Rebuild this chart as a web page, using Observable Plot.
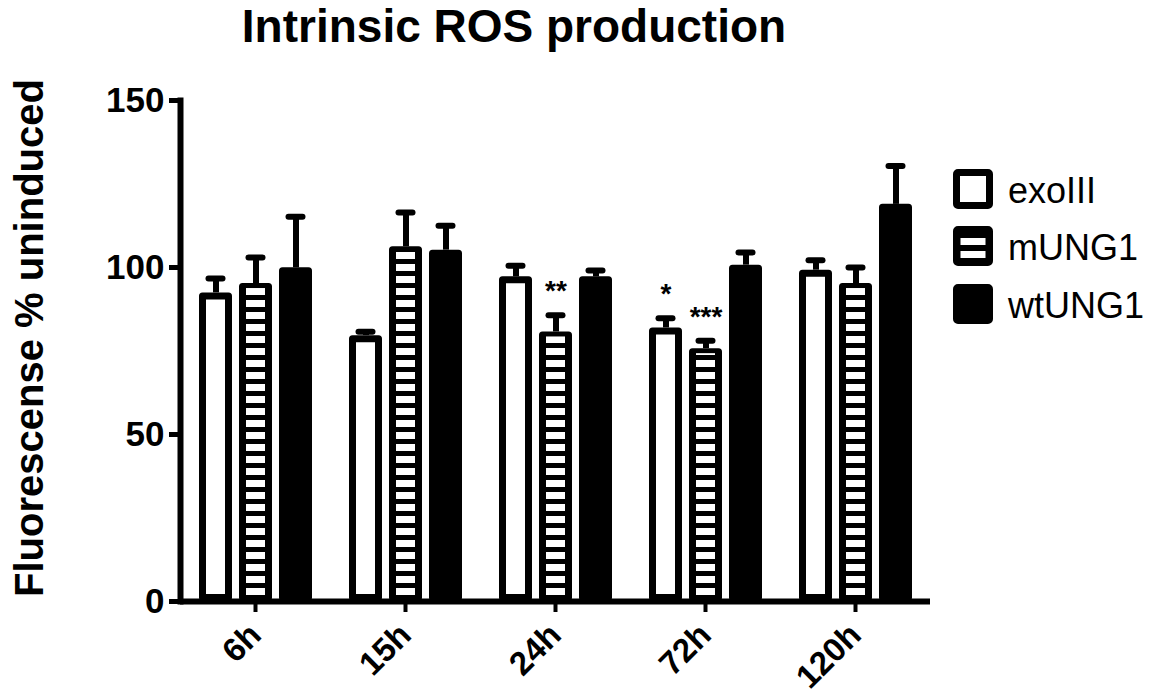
<!DOCTYPE html>
<html>
<head>
<meta charset="utf-8">
<script src="https://cdn.jsdelivr.net/npm/d3@7"></script>
<script src="https://cdn.jsdelivr.net/npm/@observablehq/plot@0.6"></script>
<style>
  html, body { margin: 0; padding: 0; background: white; }
  #wrap { position: relative; width: 1169px; height: 700px; overflow: hidden; font-family: "Liberation Sans", Arial, sans-serif; color: black; background: white; }
  #title { position: absolute; left: 0; top: 3px; width: 1028px; text-align: center; font-size: 46px; line-height: 46px; font-weight: bold; white-space: nowrap; z-index: 2; }
  #ylabel { position: absolute; left: -271px; top: 318px; width: 600px; height: 40px; line-height: 40px; text-align: center; font-size: 40px; font-weight: bold; transform: rotate(-90deg); transform-origin: 50% 50%; white-space: nowrap; z-index: 2; }
  #chart { position: absolute; left: 0; top: 60px; z-index: 1; }
  #legend { position: absolute; left: 0; top: 0; z-index: 2; }
  .sw { position: absolute; left: 953px; width: 40px; height: 40px; }
  .lt { position: absolute; left: 1008px; font-size: 36px; line-height: 36px; white-space: nowrap; }
</style>
</head>
<body>
<div id="wrap">
  <div id="chart"></div>
  <div id="title">Intrinsic ROS production</div>
  <div id="ylabel">Fluorescense % uninduced</div>
  <div id="legend"></div>
</div>
<script>
// ---- data ----
const times = ["6h", "15h", "24h", "72h", "120h"];
const series = ["exoIII", "mUNG1", "wtUNG1"];
const exoIII     = [92.4, 79.6, 97.2, 81.9, 99.2];
const exoIIIErr  = [4.3, 1.2, 3.3, 2.9, 3.0];
const mUNG1      = [95.2, 106.2, 80.7, 75.7, 95.2];
const mUNG1Err   = [7.8, 10.3, 5.0, 2.4, 4.8];
const wtUNG1     = [99.9, 105.2, 97.2, 100.7, 118.9];
const wtUNG1Err  = [15.3, 7.3, 1.9, 3.8, 11.5];
const sigTimes   = ["24h", "72h", "72h"];
const sigSeries  = ["mUNG1", "exoIII", "mUNG1"];
const sigLabels  = ["**", "*", "***"];
const yTicks = [0, 50, 100, 150];

// ---- table built from arrays ----
const valuesBySeries = {exoIII, mUNG1, wtUNG1};
const errBySeries = {exoIII: exoIIIErr, mUNG1: mUNG1Err, wtUNG1: wtUNG1Err};
const rows = [];
times.forEach((t, i) => series.forEach(s => {
  rows.push({time: t, series: s, value: valuesBySeries[s][i], err: errBySeries[s][i], top: valuesBySeries[s][i] + errBySeries[s][i]});
}));
const sig = sigLabels.map((lab, k) => {
  const r = rows.find(d => d.time === sigTimes[k] && d.series === sigSeries[k]);
  return {time: r.time, series: r.series, top: r.top, label: lab};
});

const plot = Plot.plot({
  width: 1169,
  height: 640,
  marginTop: 40,
  marginBottom: 99,
  marginLeft: 179,
  marginRight: 238,
  style: {fontFamily: "'Liberation Sans', Arial, sans-serif", background: "white", color: "black", overflow: "visible"},
  fx: {domain: times, paddingInner: 0, paddingOuter: 0, label: null},
  x: {domain: series, paddingInner: 0.175, paddingOuter: 0.4625, axis: null},
  y: {domain: [0, 150], label: null},
  marks: [
    // error bars (upper only)
    Plot.ruleX(rows, {fx: "time", x: "series", y1: "value", y2: "top", stroke: "black", strokeWidth: 6}),
    Plot.tickY(rows, {fx: "time", x: "series", y: "top", stroke: "black", strokeWidth: 6, strokeLinecap: "round", insetLeft: 9.5, insetRight: 9.5}),
    // bars
    Plot.barY(rows.filter(d => d.series === "exoIII"), {fx: "time", x: "series", y: "value", fill: "white", stroke: "black", strokeWidth: 7, strokeLinejoin: "round", inset: 3.5}),
    Plot.barY(rows.filter(d => d.series !== "exoIII"), {fx: "time", x: "series", y: "value", fill: "black", stroke: "black", strokeWidth: 7, strokeLinejoin: "round", inset: 3.5}),
    Plot.barY(rows.filter(d => d.series === "mUNG1"), {fx: "time", x: "series", y: "value", fill: "url(#hstripes)", insetLeft: 7, insetRight: 7, insetTop: 5, insetBottom: 0}),
    // significance
    Plot.text(sig, {fx: "time", x: "series", y: "top", text: "label", dy: -24, fontSize: 28, fontWeight: "bold", fill: "black"}),
    // axes
    Plot.ruleY([0], {stroke: "black", strokeWidth: 6}),
    Plot.frame({anchor: "left", facetAnchor: "left", stroke: "black", strokeWidth: 6, strokeLinecap: "square"}),
    Plot.axisY({ticks: yTicks, tickSize: 11, tickPadding: 5, fontSize: 35, fontWeight: "bold", strokeWidth: 5, label: null, tickFormat: d => String(d)}),
    Plot.axisFx({anchor: "bottom", tickSize: 11, strokeWidth: 4, text: null, label: null}),
    Plot.axisFx({anchor: "bottom", tickRotate: -45, tickSize: 0, tickPadding: 28, fontSize: 33, fontWeight: "bold", label: null, dx: 0, dy: 0})
  ]
});

// stripe pattern for mUNG1
const defs = d3.select(plot).insert("defs", ":first-child");
const pat = defs.append("pattern").attr("id", "hstripes").attr("patternUnits", "userSpaceOnUse").attr("width", 40).attr("height", 12);
pat.append("rect").attr("x", 0).attr("y", 0).attr("width", 40).attr("height", 7).attr("fill", "white");

document.getElementById("chart").appendChild(plot);

// ---- legend ----
const legendTops = [169, 226, 284];
const legend = document.getElementById("legend");
series.forEach((s, i) => {
  const sw = d3.create("svg").attr("class", "sw").attr("width", 40).attr("height", 40).style("top", legendTops[i] + "px");
  sw.append("rect").attr("x", 3.5).attr("y", 3.5).attr("width", 33).attr("height", 33).attr("rx", 1.5)
    .attr("fill", s === "exoIII" ? "white" : "black").attr("stroke", "black").attr("stroke-width", 7);
  if (s === "mUNG1") {
    sw.append("rect").attr("x", 7.5).attr("y", 12).attr("width", 25).attr("height", 7).attr("fill", "white");
    sw.append("rect").attr("x", 7.5).attr("y", 25).attr("width", 25).attr("height", 7).attr("fill", "white");
  }
  legend.appendChild(sw.node());
  const t = document.createElement("div");
  t.className = "lt";
  t.style.top = (legendTops[i] + 3.5) + "px";
  t.textContent = s;
  legend.appendChild(t);
});
</script>
</body>
</html>
